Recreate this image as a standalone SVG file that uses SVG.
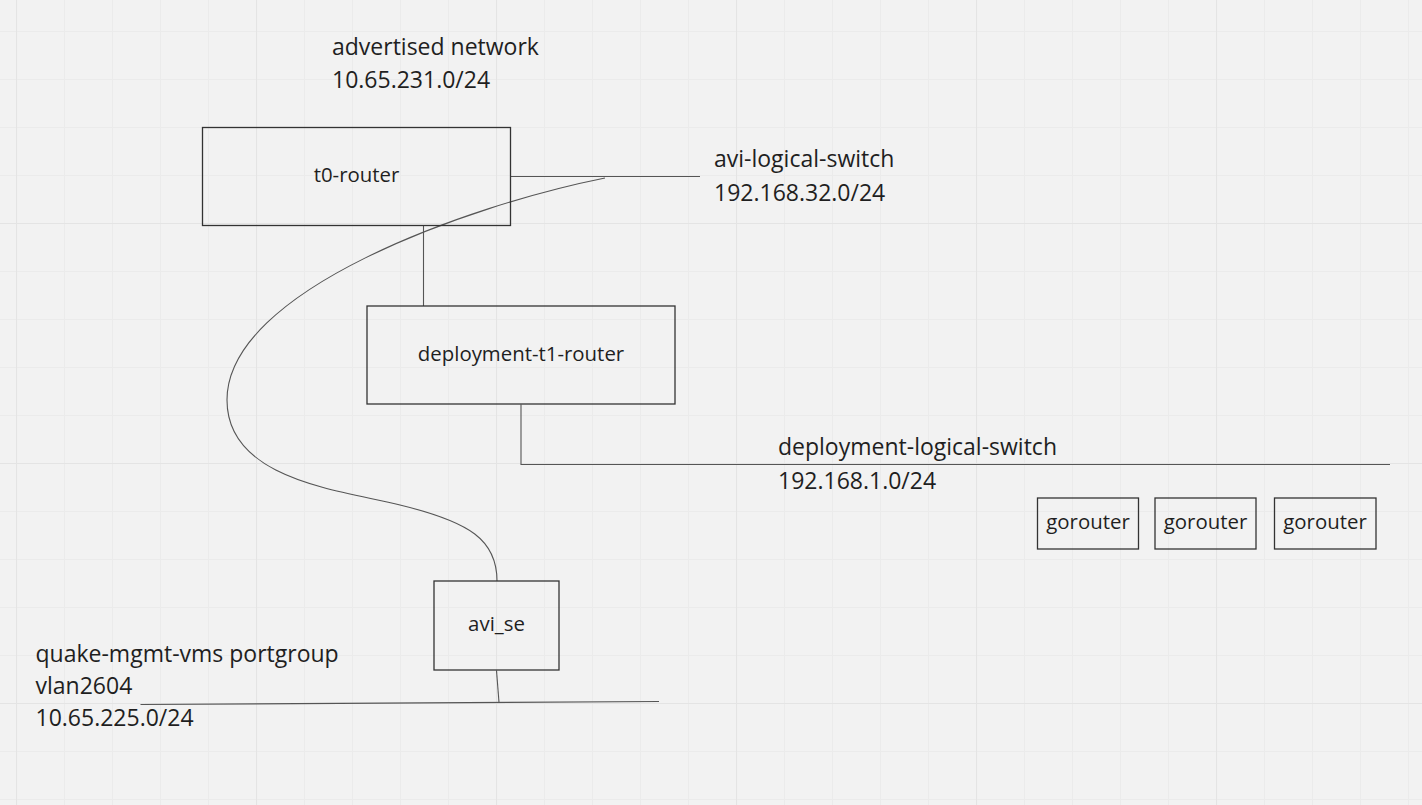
<svg xmlns="http://www.w3.org/2000/svg" width="1422" height="805" viewBox="0 0 1422 805">
<style>
.box{fill:none;stroke:#333333;stroke-width:1.3}
.conn{fill:none;stroke:#555555;stroke-width:1.1}
.ntext{font-family:"Open Sans","Noto Sans","Liberation Sans",sans-serif;font-size:20.4px;fill:#1f1f1f;text-anchor:middle}
.ltext{font-family:"Open Sans","Noto Sans","Liberation Sans",sans-serif;font-size:23px;fill:#1f1f1f}
</style>
<defs>
<pattern id="minor" patternUnits="userSpaceOnUse" x="16" y="31" width="48" height="48">
<path d="M0.5 0V48M0 0.5H48" fill="none" stroke="#ebebeb" stroke-width="1"/>
</pattern>
<pattern id="major" patternUnits="userSpaceOnUse" x="16" y="-17" width="240" height="240">
<path d="M0.5 0V240M0 0.5H240" fill="none" stroke="#e4e4e4" stroke-width="1.2"/>
</pattern>
</defs>
<rect width="1422" height="805" fill="#f2f2f2"/>
<rect width="1422" height="805" fill="url(#minor)"/>
<rect width="1422" height="805" fill="url(#major)"/>

<g id="connectors">
<line class="conn" x1="510.5" y1="176.5" x2="700" y2="176.5"/>
<path class="conn" d="M605 178 C470 205 227 290 227 400 C227 480 340 490 400 505 C470 522 497 540 497 581"/>
<line class="conn" x1="423.5" y1="225.5" x2="423.5" y2="306"/>
<line class="conn" x1="521" y1="404.5" x2="521" y2="465" stroke="#8a8a8a"/>
<line class="conn" x1="521" y1="464.5" x2="1390" y2="464.5"/>
<line class="conn" x1="496.5" y1="670.5" x2="499" y2="702.5"/>
<line class="conn" x1="140.5" y1="704.5" x2="659" y2="701.5"/>
</g>

<g id="label-advertised">
<text class="ltext" x="332" y="55">advertised network</text>
<text class="ltext" x="332" y="88">10.65.231.0/24</text>
</g>
<g id="label-avi-logical-switch">
<text class="ltext" x="714" y="167">avi-logical-switch</text>
<text class="ltext" x="714" y="201">192.168.32.0/24</text>
</g>
<g id="label-deployment-logical-switch">
<text class="ltext" x="778" y="455">deployment-logical-switch</text>
<text class="ltext" x="778" y="489">192.168.1.0/24</text>
</g>
<g id="label-quake">
<text class="ltext" x="35.5" y="662">quake-mgmt-vms portgroup</text>
<text class="ltext" x="35.5" y="694">vlan2604</text>
<text class="ltext" x="35.5" y="726">10.65.225.0/24</text>
</g>

<g id="t0-router">
<rect class="box" x="202.5" y="127.5" width="308" height="98"/>
<text class="ntext" x="356.5" y="182">t0-router</text>
</g>
<g id="deployment-t1-router">
<rect class="box" x="367" y="306" width="308" height="98"/>
<text class="ntext" x="521" y="361">deployment-t1-router</text>
</g>
<g id="avi_se">
<rect class="box" x="434" y="581" width="125" height="89"/>
<text class="ntext" x="496.5" y="631">avi_se</text>
</g>
<g id="gorouter-1">
<rect class="box" x="1037.5" y="498" width="101" height="51"/>
<text class="ntext" x="1088" y="529">gorouter</text>
</g>
<g id="gorouter-2">
<rect class="box" x="1155" y="498" width="101" height="51"/>
<text class="ntext" x="1205.5" y="529">gorouter</text>
</g>
<g id="gorouter-3">
<rect class="box" x="1274.5" y="498" width="101.5" height="51"/>
<text class="ntext" x="1325" y="529">gorouter</text>
</g>
</svg>
